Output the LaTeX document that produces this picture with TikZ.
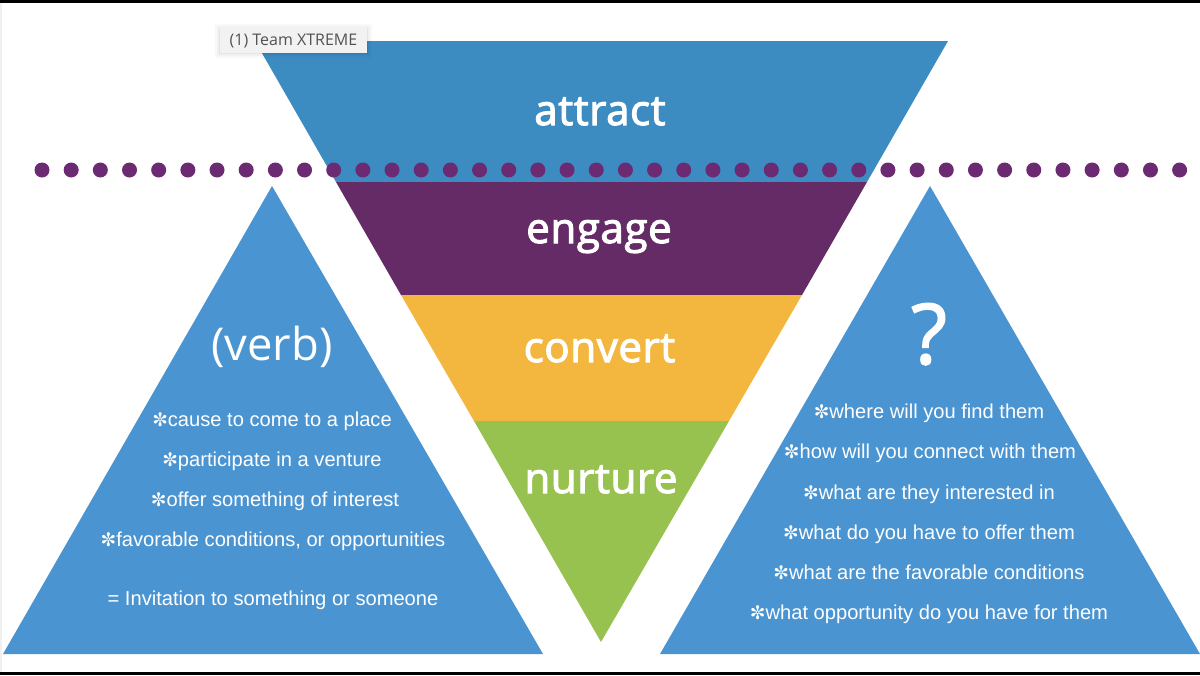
\documentclass[tikz,border=0pt]{standalone}
\usepackage{fontspec}
\setmainfont{Open Sans}
\newfontfamily\symfont{DejaVu Sans}
\newfontfamily\bodyfont{Liberation Sans}
\newfontfamily\bandfont[RawFeature={embolden=2.6},LetterSpace=1.5]{Open Sans}
\newfontfamily\qfont[RawFeature={embolden=1.5}]{Open Sans}
\newcommand{\stargl}{{\symfont\fontsize{14pt}{14pt}\selectfont ✼}}
\definecolor{funblue}{HTML}{3C8CC2}
\definecolor{funpurple}{HTML}{652B67}
\definecolor{funyellow}{HTML}{F3B63F}
\definecolor{fungreen}{HTML}{97C250}
\definecolor{sideblue}{HTML}{4A94D1}
\definecolor{dotpurple}{HTML}{6B2A72}
\tikzset{
  x=0.75pt,y=-0.75pt,
  band/.style={text=white,font=\bandfont\fontsize{31.5pt}{32pt}\selectfont,inner sep=0pt,anchor=base},
  item/.style={text=white,font=\bodyfont\fontsize{15.1pt}{15pt}\selectfont,inner sep=0pt,anchor=base},
  bigmark/.style={text=white,inner sep=0pt,anchor=base},
  dotmark/.style={fill=dotpurple,draw=none,circle,minimum size=11.25pt,inner sep=0pt},
  tab/.style={fill=black!5,draw=none,text=black!68,font=\fontsize{12pt}{12pt}\selectfont,inner sep=0pt,minimum width=110.25pt,minimum height=20.25pt}
}
\begin{document}
\begin{tikzpicture}
\useasboundingbox (0,0) rectangle (1200,675);
\fill[white] (0,0) rectangle (1200,675);
\fill[black!6] (0,3) rectangle (2,672);
\fill[black] (0,0) rectangle (1200,3);
\fill[black] (0,672) rectangle (1200,675);
% funnel bands
\fill[funblue] (255,41) -- (948,41) -- (867,182) -- (336,182) -- cycle;
\fill[funpurple] (336,182) -- (867,182) -- (802,295) -- (401,295) -- cycle;
\fill[funyellow] (401,295) -- (802,295) -- (729,421) -- (474,421) -- cycle;
\fill[fungreen] (474,421) -- (729,421) -- (601,642) -- cycle;
% side triangles
\fill[sideblue] (272,186) -- (543,654) -- (3,654) -- cycle;
\fill[sideblue] (930,186) -- (1200,654) -- (660,654) -- cycle;
% dots
\foreach \i in {0,...,39} {
  \node[dotmark] (dot\i) at ({42+\i*29.17},170) {};
}
% tab with soft shadow
\foreach \d/\o in {5/0.025,3/0.03,1/0.05} {
  \fill[black,opacity=\o] (220-\d,26-\d+3) rectangle (367+\d,53+\d);
}
\node[tab] (tabnode) at (293.5,39.5) {\raisebox{-4.5pt}[0pt][0pt]{(1) Team XTREME}};
% band labels
\node[band] (attract) at (600,125) {attract};
\node[band] (engage) at (599,243) {engage};
\node[band] (convert) at (599.5,362) {convert};
\node[band] (nurture) at (601,493) {nurture};
% left
\node[bigmark,font=\fontsize{34pt}{34pt}\selectfont] (verb) at (272,360) {(verb)};
\node[item] (l1) at (272,426) {\stargl cause to come to a place};
\node[item] (l2) at (272,466) {\stargl participate in a venture};
\node[item] (l3) at (275,506) {\stargl offer something of interest};
\node[item] (l4) at (273,546) {\stargl favorable conditions, or opportunities};
\node[item] (l5) at (273,605) {= Invitation to something or someone};
% right
\node[bigmark,font=\qfont\fontsize{63pt}{63pt}\selectfont] (qmark) at (929,364) {?};
\node[item] (r1) at (929,418) {\stargl where will you find them};
\node[item] (r2) at (930,458) {\stargl how will you connect with them};
\node[item] (r3) at (929,499) {\stargl what are they interested in};
\node[item] (r4) at (929,539) {\stargl what do you have to offer them};
\node[item] (r5) at (929,579) {\stargl what are the favorable conditions};
\node[item] (r6) at (929,619) {\stargl what opportunity do you have for them};
\end{tikzpicture}
\end{document}
